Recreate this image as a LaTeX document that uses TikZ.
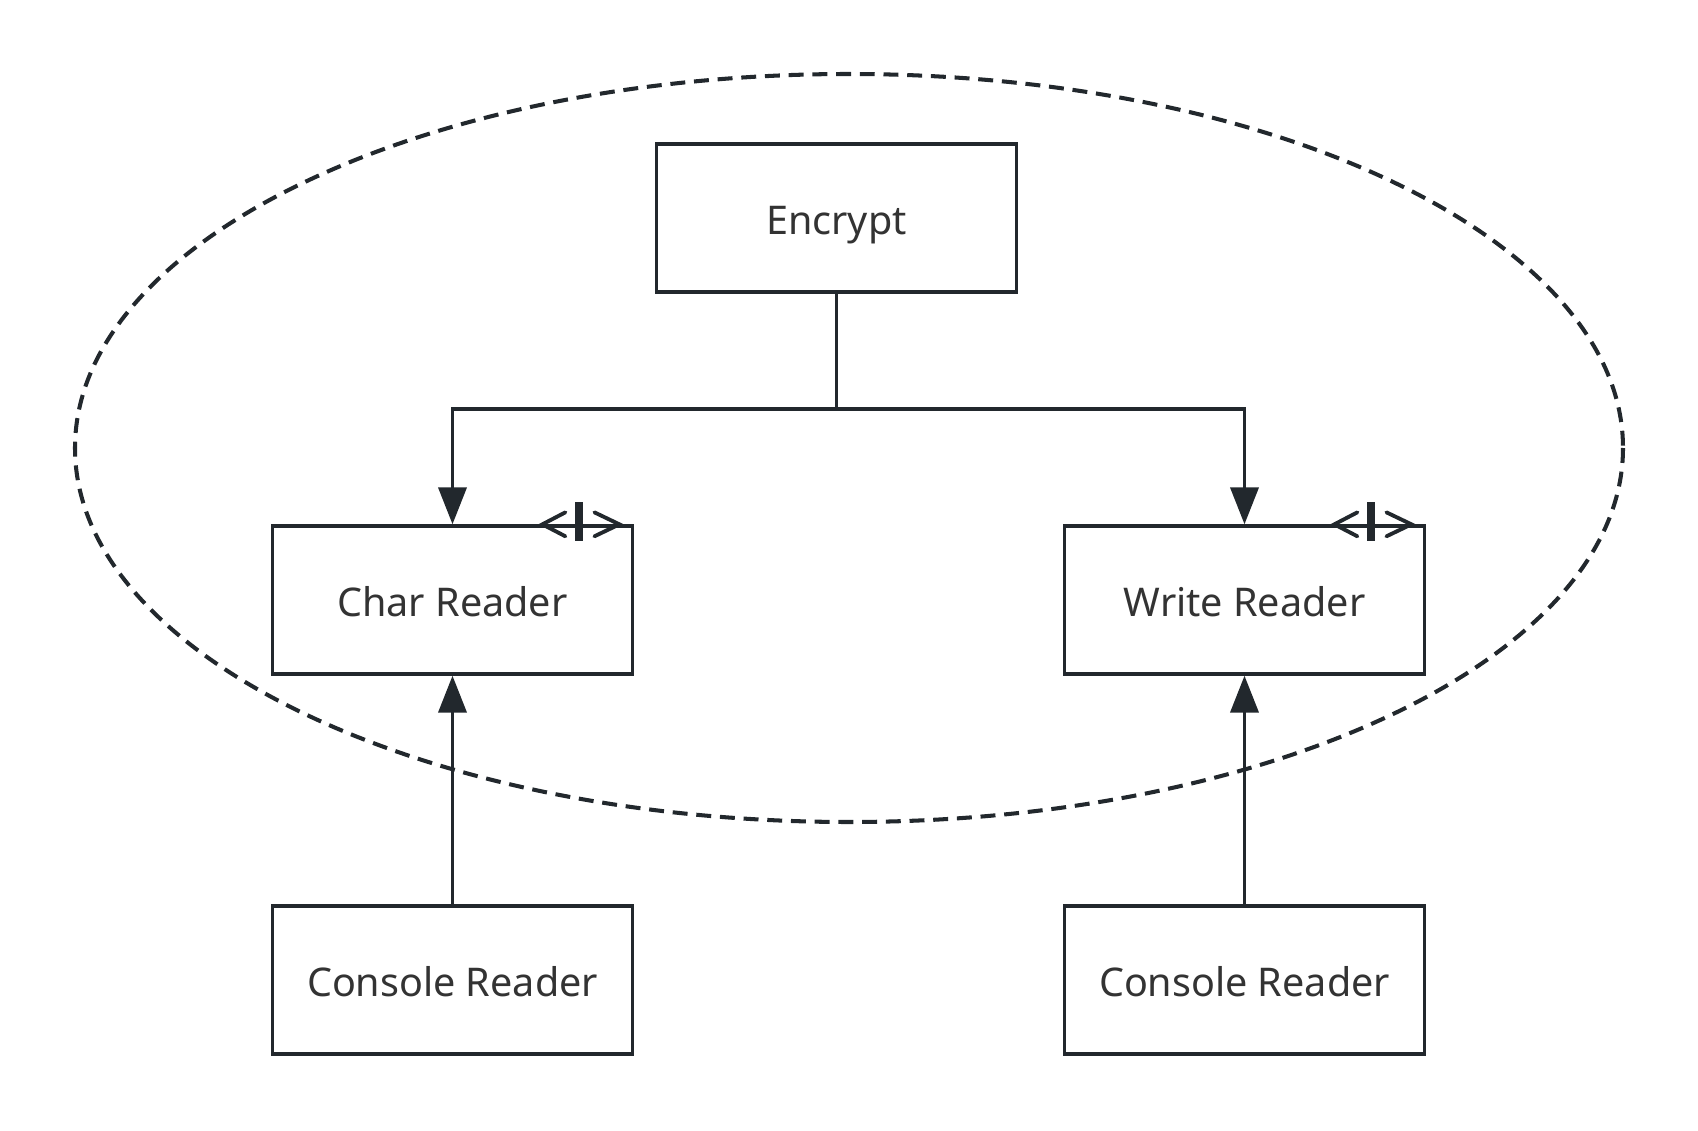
\documentclass[tikz,border=0pt]{standalone}
\usepackage{fontspec}
\setmainfont{Noto Sans}
\usetikzlibrary{arrows.meta,positioning}
\definecolor{lineblack}{RGB}{34,40,45}
\definecolor{textgray}{RGB}{51,51,51}
\tikzset{
    box/.style={draw=lineblack, line width=2.2pt, minimum width=7.2cm, minimum height=2.95cm, text height=19pt, text depth=0pt, text=textgray, font=\fontsize{22.5}{27}\selectfont},
    arr/.style={draw=lineblack, line width=2.2pt, -{Triangle[length=0.74cm, width=0.56cm]}},
    link/.style={draw=lineblack, line width=2.2pt}
}

\begin{document}
\begin{tikzpicture}[x=0.02cm, y=-0.02cm]
    \useasboundingbox (0,0) rectangle (1698,1131);

    % Dashed scope
    \draw[lineblack, line width=2.3pt, dash pattern=on 8.5pt off 5pt] (849,448) ellipse [x radius=774, y radius=374];

    % Boxes
    \node[box] (enc) at (836.5,218) {Encrypt};
    \node[box] (char) at (452.5,600) {Char Reader};
    \node[box] (write) at (1244.5,600) {Write Reader};
    \node[box] (con1) at (452.5,980) {Console Reader};
    \node[box] (con2) at (1244.5,980) {Console Reader};

    % Connectors
    \coordinate (split) at (836.5,409);
    \draw[link] (enc.south) -- (split);
    \draw[arr] (split) -| (char.north);
    \draw[arr] (split) -| (write.north);
    \draw[arr] (con1.north) -- (char.south);
    \draw[arr] (con2.north) -- (write.south);

    % Markers on the boxes
    \foreach \b in {char, write} {
        \draw[lineblack, line width=2.2pt, line cap=round, line join=miter] ([shift={(-69,-12)}]\b.north east) -- ([shift={(-92,0)}]\b.north east) -- ([shift={(-69,12)}]\b.north east);
        \draw[lineblack, line width=2.2pt, line cap=round, line join=miter] ([shift={(-40,-12)}]\b.north east) -- ([shift={(-15,0)}]\b.north east) -- ([shift={(-40,12)}]\b.north east);
        \draw[lineblack, line width=4.5pt] ([shift={(-55,-22)}]\b.north east) -- ([shift={(-55,17)}]\b.north east);
    }
\end{tikzpicture}
\end{document}
